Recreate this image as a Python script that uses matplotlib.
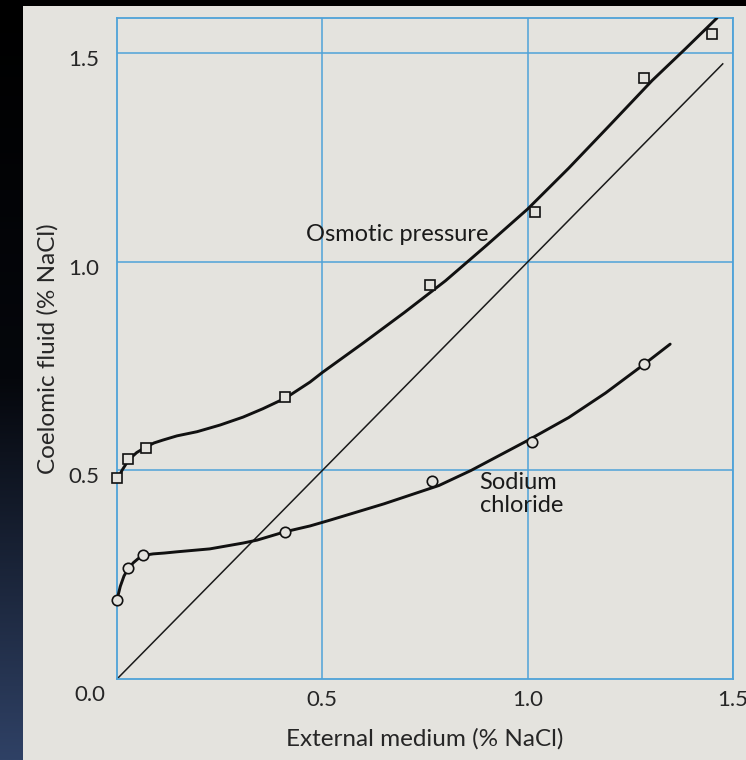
import numpy as np
import matplotlib
matplotlib.use("Agg")
import matplotlib.pyplot as plt
import matplotlib.transforms as mtransforms

osm_x = [0.0, 0.028, 0.07, 0.41, 0.762, 1.017, 1.284, 1.449]
osm_y = [0.482, 0.528, 0.554, 0.676, 0.945, 1.12, 1.441, 1.547]
na_x = [0.0, 0.027, 0.064, 0.408, 0.767, 1.01, 1.284]
na_y = [0.19, 0.265, 0.297, 0.352, 0.474, 0.568, 0.755]

# hand-drawn fitted curves
osm_curve_x = [0.0, 0.012, 0.028, 0.048, 0.07, 0.09, 0.112, 0.146, 0.195, 0.251, 0.307,
               0.355, 0.411, 0.47, 0.5, 0.6, 0.7, 0.8, 0.9, 1.0, 1.1, 1.2, 1.303,
               1.385, 1.461]
osm_curve_y = [0.475, 0.50, 0.525, 0.543, 0.556, 0.566, 0.573, 0.583, 0.593, 0.609, 0.628,
               0.648, 0.674, 0.712, 0.735, 0.806, 0.879, 0.955, 1.04, 1.127, 1.225, 1.328, 1.435,
               1.512, 1.585]
na_curve_x = [0.0, 0.008, 0.017, 0.027, 0.04, 0.052, 0.063, 0.075, 0.088, 0.115, 0.146,
              0.226, 0.307, 0.341, 0.409, 0.47, 0.519, 0.65, 0.784, 0.862, 1.0, 1.1,
              1.19, 1.284, 1.347]
na_curve_y = [0.19, 0.222, 0.247, 0.264, 0.279, 0.289, 0.295, 0.298, 0.300, 0.302, 0.305,
              0.312, 0.326, 0.333, 0.353, 0.367, 0.381, 0.42, 0.464, 0.5, 0.572, 0.627,
              0.686, 0.755, 0.803]

# isosmotic line
iso_x = [0.0, 1.475]
iso_y = [0.0, 1.475]

ticks = [0.5, 1.0, 1.5]
tick_labels = ["0.5", "1.0", "1.5"]

paper = "#e4e3de"
grid_blue = "#4ea2d8"
ink = "#262626"
plt.rcParams["font.family"] = ["Lato", "DejaVu Sans"]

W, H = 746, 760
fig = plt.figure(figsize=(W / 100, H / 100), dpi=100)
fig.patch.set_facecolor(paper)

# dark slide strip on the left and top
bg = fig.add_axes([0, 0, 23 / W, 1])
grad = np.linspace(0, 1, 256).reshape(-1, 1)
cmap = matplotlib.colors.LinearSegmentedColormap.from_list("slide", ["#000000", "#05070c", "#2f4165"])
bg.imshow(grad, aspect="auto", cmap=cmap, extent=[0, 1, 0, 1], origin="upper")
bg.set_axis_off()
top = fig.add_axes([0, 1 - 6 / H, 1, 6 / H])
top.set_facecolor("black")
top.set_xticks([])
top.set_yticks([])
for s in top.spines.values():
    s.set_visible(False)

ax = fig.add_axes([117 / W, 1 - 679 / H, (733 - 117) / W, (679 - 18) / H])
ax.set_facecolor(paper)
ax.set_xlim(0, 1.5)
ax.set_ylim(0, 1.585)

for v in ticks:
    ax.axvline(v, color=grid_blue, lw=1.1, zorder=1)
    ax.axhline(v, color=grid_blue, lw=1.1, zorder=1)
for s in ax.spines.values():
    s.set_color(grid_blue)
    s.set_linewidth(1.3)

ax.plot(iso_x, iso_y, color="#1a1a1a", lw=1.1, zorder=2)
ax.plot(osm_curve_x, osm_curve_y, color="#111111", lw=2.1, zorder=3,
        solid_capstyle="round", solid_joinstyle="round")
ax.plot(na_curve_x, na_curve_y, color="#111111", lw=2.1, zorder=3,
        solid_capstyle="round", solid_joinstyle="round")
ax.plot(osm_x, osm_y, ls="none", marker="s", ms=6.5, mfc=paper, mec="#111111", mew=1.2, zorder=4, clip_on=False)
ax.plot(na_x, na_y, ls="none", marker="o", ms=7.5, mfc=paper, mec="#111111", mew=1.2, zorder=4, clip_on=False)

ax.set_xticks(ticks)
ax.set_xticklabels(tick_labels)
ax.set_yticks(ticks)
ax.set_yticklabels(tick_labels)
ax.tick_params(length=0, labelsize=16, colors=ink)
ax.tick_params(axis="x", pad=8)
ax.tick_params(axis="y", pad=13)
shift = mtransforms.ScaledTranslation(0, -5 / 100, fig.dpi_scale_trans)
for lab in ax.get_yticklabels():
    lab.set_transform(lab.get_transform() + shift)
ax.text(-0.066, -0.038, "0.0", ha="center", va="center", fontsize=16, color=ink, clip_on=False)

ax.set_xlabel("External medium (% NaCl)", fontsize=17.5, color=ink, labelpad=13)
ax.set_ylabel("Coelomic fluid (% NaCl)", fontsize=17.5, color=ink, labelpad=7)

ax.text(0.461, 1.065, "Osmotic pressure", ha="left", va="center", fontsize=17, color="#1a1a1a")
ax.text(0.883, 0.444, "Sodium\nchloride", ha="left", va="center", fontsize=17, color="#1a1a1a",
        linespacing=1.1)

fig.savefig("out.png", dpi=100, facecolor=fig.get_facecolor())
